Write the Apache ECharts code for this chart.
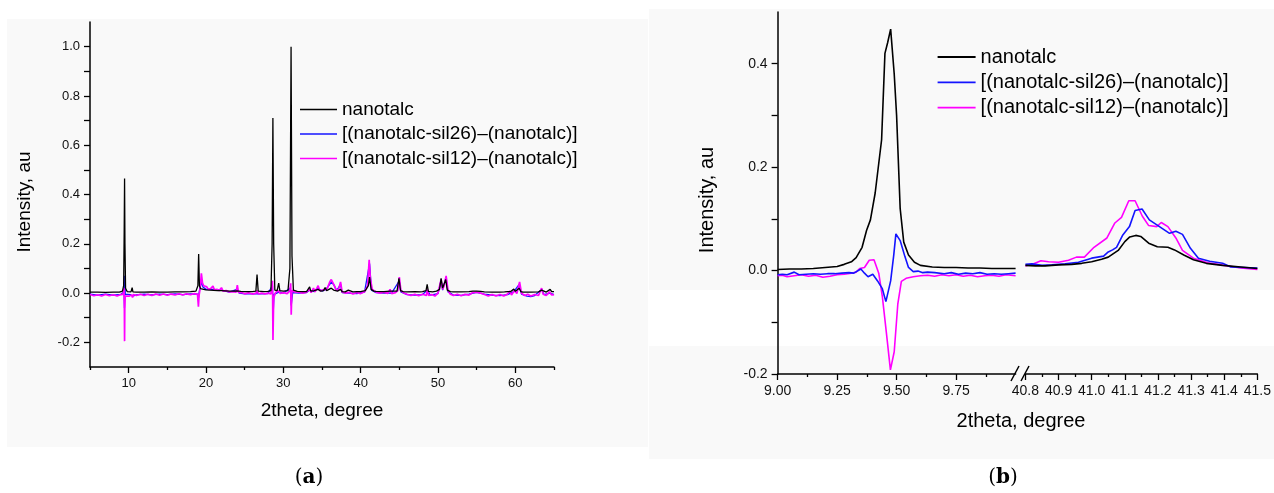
<!DOCTYPE html>
<html>
<head>
<meta charset="utf-8">
<script src="https://cdn.jsdelivr.net/npm/echarts@6/dist/echarts.min.js"></script>
<style>
html,body{margin:0;padding:0;background:#fff;}
#chart{width:1274px;height:493px;}
</style>
</head>
<body>
<div id="chart"></div>
<script>
// ---------- series names ----------
const seriesNames = ['nanotalc', '[(nanotalc-sil26)\u2013(nanotalc)]', '[(nanotalc-sil12)\u2013(nanotalc)]'];
const panelLabels = ['a', 'b'];
const xTitle = '2theta, degree';
const yTitle = 'Intensity, au';

// ---------- panel (a) data: [2theta, intensity] ----------
const aNanotalc = [[5,0.004],[6,0.004],[7,0.003],[8,0.004],[8.8,0.004],[9.2,0.008],[9.35,0.03],[9.42,0.25],[9.47,0.465],[9.52,0.2],[9.6,0.02],[9.8,0.006],[10.3,0.005],[10.45,0.022],[10.55,0.005],[11,0.004],[12,0.004],[13,0.005],[14,0.004],[15,0.004],[16,0.005],[17,0.005],[18,0.006],[18.7,0.008],[18.95,0.03],[19.05,0.158],[19.15,0.03],[19.3,0.018],[19.5,0.022],[19.7,0.015],[20,0.013],[20.5,0.012],[21,0.011],[21.5,0.01],[22,0.01],[22.5,0.009],[23,0.008],[23.5,0.008],[24,0.009],[24.5,0.007],[25,0.006],[25.5,0.006],[26,0.006],[26.45,0.008],[26.6,0.075],[26.75,0.008],[27,0.006],[27.5,0.006],[28,0.007],[28.4,0.01],[28.55,0.2],[28.65,0.71],[28.75,0.2],[28.9,0.012],[29.2,0.01],[29.4,0.04],[29.55,0.01],[30,0.008],[30.6,0.01],[30.85,0.1],[31.0,1.0],[31.12,0.15],[31.3,0.012],[31.8,0.007],[32.5,0.006],[33,0.006],[33.4,0.025],[33.55,0.008],[34,0.01],[34.5,0.015],[34.8,0.008],[35.2,0.01],[35.4,0.022],[35.6,0.01],[35.9,0.015],[36.2,0.02],[36.5,0.012],[37,0.008],[37.4,0.015],[37.6,0.006],[38,0.005],[38.4,0.012],[38.6,0.004],[39,0.005],[39.5,0.006],[40,0.006],[40.6,0.01],[41.0,0.03],[41.15,0.065],[41.35,0.015],[41.7,0.008],[42,0.007],[43,0.006],[43.8,0.008],[44,0.006],[44.7,0.008],[44.95,0.06],[45.15,0.01],[45.5,0.006],[46,0.005],[47,0.006],[47.7,0.005],[48,0.006],[48.45,0.01],[48.6,0.035],[48.75,0.007],[49,0.006],[49.3,0.005],[49.8,0.008],[50.2,0.015],[50.4,0.06],[50.6,0.02],[50.8,0.025],[51.0,0.055],[51.2,0.012],[51.6,0.006],[52,0.005],[53,0.005],[54,0.006],[54.5,0.008],[55,0.008],[55.5,0.007],[56,0.005],[57,0.004],[58,0.004],[58.6,0.005],[59.0,0.006],[59.2,0.012],[59.4,0.006],[59.8,0.016],[60.0,0.007],[60.5,0.02],[60.7,0.006],[61,0.004],[62,0.004],[63,0.005],[63.4,0.012],[63.6,0.005],[64,0.004],[64.5,0.015],[64.7,0.006],[65,0.006]];

const aSil26 = [[5,-0.004],[6,-0.008],[7,-0.004],[8,-0.008],[9,-0.005],[9.4,0.005],[9.46,-0.06],[9.5,0.07],[9.56,-0.004],[9.8,-0.008],[10.2,-0.006],[10.5,-0.012],[10.7,-0.005],[11,-0.007],[12,-0.004],[13,-0.007],[14,-0.004],[15,-0.006],[16,-0.003],[17,-0.006],[18,-0.003],[18.95,-0.004],[19.03,-0.02],[19.15,0.01],[19.4,0.045],[19.6,0.025],[20,0.015],[21,0.015],[22,0.012],[23,0.004],[24,0.015],[24.3,0.0],[25,-0.003],[26,-0.002],[27,-0.003],[28,-0.002],[28.6,0.03],[28.66,-0.1],[28.8,-0.005],[29.5,0.005],[30,0.0],[30.9,0.02],[31.02,-0.05],[31.2,0.002],[32,0.0],[33,0.002],[33.4,0.012],[34,0.006],[34.5,0.02],[35,0.008],[35.5,0.015],[36.0,0.035],[36.2,0.045],[36.5,0.035],[36.9,0.01],[37.4,0.035],[37.6,0.002],[38.5,0.0],[39.5,-0.002],[40.5,0.004],[41.15,0.12],[41.4,0.012],[42,0.002],[43,0.0],[44,0.0],[45,0.05],[45.2,0.005],[46,-0.006],[47,-0.008],[48,-0.006],[48.6,0.012],[49,-0.008],[50,-0.002],[50.4,0.05],[50.6,0.012],[51,0.06],[51.3,0.005],[52,-0.008],[53,-0.009],[54,-0.004],[55,0.003],[56,-0.004],[57,-0.008],[58,-0.01],[59,-0.006],[59.8,0.006],[60.5,0.035],[60.8,-0.004],[61.5,-0.012],[62,-0.014],[62.5,-0.01],[63.4,0.015],[63.7,-0.006],[64.5,0.0],[65,-0.006]];

const aSil12 = [[5,-0.006],[5.5,-0.011],[6,-0.007],[6.5,-0.012],[7,-0.006],[7.5,-0.011],[8,-0.007],[8.5,-0.012],[9,-0.006],[9.3,-0.004],[9.4,0.02],[9.44,-0.05],[9.47,-0.195],[9.5,-0.06],[9.55,-0.012],[9.8,-0.006],[10.1,-0.012],[10.4,-0.008],[10.5,-0.018],[10.6,-0.006],[11,-0.01],[11.5,-0.005],[12,-0.01],[12.5,-0.005],[13,-0.01],[13.5,-0.004],[14,-0.009],[14.5,-0.004],[15,-0.009],[15.5,-0.004],[16,-0.008],[16.5,-0.003],[17,-0.008],[17.5,-0.003],[18,-0.007],[18.5,-0.002],[18.9,-0.005],[19.02,-0.055],[19.1,-0.01],[19.25,0.02],[19.4,0.08],[19.55,0.04],[19.7,0.03],[19.9,0.022],[20.1,0.025],[20.3,0.015],[20.6,0.018],[20.9,0.028],[21.1,0.012],[21.4,0.015],[21.7,0.01],[22.0,0.022],[22.2,0.008],[22.6,0.01],[23,0.005],[23.5,0.006],[23.9,0.004],[24.05,0.032],[24.2,0.003],[24.6,0.002],[25,-0.003],[25.5,0.001],[26,-0.004],[26.5,0.0],[26.6,0.01],[26.8,-0.004],[27.2,0.0],[27.6,-0.004],[28,0.0],[28.4,-0.003],[28.6,0.05],[28.66,-0.19],[28.75,-0.02],[29,0.002],[29.4,0.01],[29.6,-0.002],[30,0.002],[30.5,-0.002],[30.85,0.01],[30.95,0.04],[31.02,-0.088],[31.1,0.01],[31.4,0.005],[31.5,0.0],[32,0.004],[32.5,0.0],[33,0.004],[33.4,0.015],[33.6,0.002],[33.9,0.02],[34.1,0.005],[34.5,0.03],[34.7,0.01],[35,0.012],[35.4,0.015],[35.7,0.02],[36.0,0.045],[36.2,0.055],[36.4,0.05],[36.6,0.03],[36.8,0.015],[37.1,0.01],[37.4,0.045],[37.6,0.005],[38,0.0],[38.5,0.003],[39,-0.004],[39.5,0.002],[40,-0.002],[40.5,0.005],[40.9,0.03],[41.1,0.135],[41.25,0.06],[41.5,0.015],[42,0.004],[42.5,0.0],[43,0.004],[43.5,-0.002],[43.8,0.015],[44,-0.002],[44.5,0.002],[44.8,0.01],[45.0,0.065],[45.2,0.01],[45.6,0.0],[46,-0.005],[46.5,-0.01],[47,-0.005],[47.5,-0.011],[48,-0.005],[48.5,-0.01],[48.6,0.015],[48.8,-0.01],[49.2,-0.006],[49.6,-0.012],[50,0.0],[50.4,0.055],[50.6,0.015],[50.8,0.03],[51.05,0.07],[51.3,0.01],[51.6,-0.005],[52,-0.01],[52.5,-0.005],[53,-0.011],[53.5,-0.005],[54,-0.008],[54.5,0.002],[55,0.004],[55.5,0.0],[56,-0.006],[56.5,-0.012],[57,-0.006],[57.5,-0.012],[58,-0.006],[58.5,-0.012],[59,-0.004],[59.3,0.008],[59.5,-0.008],[59.9,0.01],[60.2,-0.002],[60.55,0.045],[60.8,0.0],[61.2,-0.01],[61.6,-0.005],[62,-0.012],[62.5,-0.006],[63,-0.01],[63.4,0.02],[63.6,-0.005],[64,-0.01],[64.4,0.005],[64.7,-0.008],[65,-0.006]];

// ---------- panel (b) data, left segment (9.0 - 10.0) ----------
const bNanotalcL = [[9.00,0.002],[9.05,0.003],[9.10,0.003],[9.15,0.004],[9.20,0.006],[9.25,0.008],[9.28,0.012],[9.31,0.017],[9.33,0.025],[9.355,0.045],[9.374,0.078],[9.39,0.098],[9.41,0.15],[9.437,0.253],[9.451,0.42],[9.462,0.44],[9.475,0.467],[9.49,0.38],[9.50,0.3],[9.515,0.12],[9.53,0.055],[9.55,0.03],[9.575,0.016],[9.60,0.01],[9.65,0.007],[9.70,0.006],[9.75,0.006],[9.80,0.005],[9.85,0.005],[9.90,0.004],[9.95,0.004],[10.0,0.004]];
const bSil26L = [[9.00,-0.008],[9.02,-0.007],[9.04,-0.008],[9.07,-0.003],[9.09,-0.008],[9.12,-0.007],[9.15,-0.006],[9.18,-0.007],[9.21,-0.006],[9.24,-0.006],[9.27,-0.005],[9.30,-0.004],[9.32,-0.005],[9.35,0.003],[9.365,-0.005],[9.38,-0.012],[9.40,-0.007],[9.42,-0.02],[9.44,-0.035],[9.455,-0.06],[9.475,-0.02],[9.488,0.03],[9.497,0.071],[9.515,0.058],[9.535,0.027],[9.55,0.006],[9.57,-0.002],[9.59,-0.001],[9.61,-0.004],[9.63,-0.003],[9.66,-0.004],[9.70,-0.006],[9.73,-0.004],[9.76,-0.007],[9.79,-0.005],[9.82,-0.006],[9.85,-0.004],[9.88,-0.007],[9.91,-0.006],[9.94,-0.007],[9.97,-0.006],[10.0,-0.005]];
const bSil12L = [[9.00,-0.01],[9.02,-0.009],[9.04,-0.012],[9.07,-0.01],[9.10,-0.008],[9.13,-0.011],[9.16,-0.009],[9.19,-0.013],[9.22,-0.011],[9.25,-0.008],[9.28,-0.007],[9.31,-0.005],[9.33,-0.003],[9.345,0.004],[9.365,0.006],[9.385,0.02],[9.405,0.021],[9.425,-0.005],[9.44,-0.05],[9.457,-0.12],[9.474,-0.192],[9.49,-0.157],[9.505,-0.065],[9.52,-0.021],[9.54,-0.015],[9.57,-0.012],[9.60,-0.01],[9.63,-0.009],[9.66,-0.011],[9.69,-0.008],[9.72,-0.01],[9.75,-0.008],[9.78,-0.011],[9.81,-0.009],[9.84,-0.012],[9.87,-0.01],[9.90,-0.009],[9.93,-0.011],[9.96,-0.008],[10.0,-0.01]];

// ---------- panel (b) data, right segment (40.8 - 41.5) ----------
const bNanotalcR = [[40.80,0.010],[40.83,0.009],[40.86,0.009],[40.90,0.011],[40.94,0.012],[40.97,0.014],[41.00,0.017],[41.03,0.022],[41.05,0.026],[41.08,0.039],[41.10,0.056],[41.115,0.065],[41.133,0.068],[41.148,0.066],[41.172,0.053],[41.198,0.046],[41.23,0.045],[41.25,0.04],[41.278,0.03],[41.307,0.021],[41.346,0.014],[41.395,0.01],[41.45,0.007],[41.5,0.004]];
const bSil26R = [[40.80,0.012],[40.82,0.013],[40.85,0.01],[40.88,0.011],[40.92,0.013],[40.96,0.016],[41.0,0.024],[41.036,0.028],[41.05,0.036],[41.063,0.04],[41.075,0.045],[41.094,0.069],[41.114,0.085],[41.131,0.116],[41.152,0.119],[41.174,0.098],[41.20,0.087],[41.235,0.072],[41.254,0.076],[41.274,0.07],[41.298,0.043],[41.322,0.024],[41.356,0.018],[41.395,0.014],[41.42,0.007],[41.46,0.006],[41.5,0.005]];
const bSil12R = [[40.80,0.009],[40.825,0.013],[40.847,0.019],[40.87,0.017],[40.90,0.016],[40.93,0.02],[40.954,0.026],[40.978,0.026],[41.007,0.045],[41.046,0.063],[41.07,0.092],[41.09,0.103],[41.112,0.135],[41.131,0.135],[41.153,0.105],[41.172,0.087],[41.196,0.085],[41.21,0.093],[41.23,0.085],[41.254,0.063],[41.274,0.039],[41.307,0.024],[41.35,0.015],[41.4,0.01],[41.45,0.005],[41.5,0.002]];

// ---------- ticks ----------
const aXLabels = [10, 20, 30, 40, 50, 60];
const aXMinor = [5, 15, 25, 35, 45, 55, 65];
const aYLabels = [-0.2, 0, 0.2, 0.4, 0.6, 0.8, 1.0];
const aYTicks = [-0.2, -0.1, 0, 0.1, 0.2, 0.3, 0.4, 0.5, 0.6, 0.7, 0.8, 0.9, 1.0];
const bXLabelsL = [9.0, 9.25, 9.5, 9.75];
const bXMinorL = [9.125, 9.375, 9.625, 9.875];
const bXLabelsR = [40.8, 40.9, 41.0, 41.1, 41.2, 41.3, 41.4, 41.5];
const bXMinorR = [40.85, 40.95, 41.05, 41.15, 41.25, 41.35, 41.45];
const bYLabels = [-0.2, 0, 0.2, 0.4];
const bYTicks = [-0.2, -0.1, 0, 0.1, 0.2, 0.3, 0.4];

const colors = ['#000000', '#1414ff', '#ff00ff'];
const FONT = 'Liberation Sans';
const AXC = '#000';

function line(name, data, color, xi, yi, w, z) {
  return { type: 'line', name: name, data: data, xAxisIndex: xi, yAxisIndex: yi,
    symbol: 'none', showSymbol: false, z: z,
    lineStyle: { color: color, width: w }, itemStyle: { color: color },
    emphasis: { disabled: true }, silent: true };
}
function xAx(grid, min, max, labels, ticks, len, fmt, fs, showLine) {
  return { type: 'value', gridIndex: grid, min: min, max: max, position: 'bottom', offset: 0,
    axisLine: { show: showLine, onZero: false, lineStyle: { color: AXC, width: 1.5 } },
    axisTick: { show: true, inside: false, length: len, customValues: ticks, lineStyle: { color: AXC, width: 1.3 } },
    axisLabel: { show: labels !== null, customValues: labels || [], margin: 10, color: '#111', fontSize: fs, fontFamily: FONT, formatter: fmt },
    splitLine: { show: false } };
}
function yAx(grid, min, max, labels, ticks, fs, show) {
  return { type: 'value', gridIndex: grid, min: min, max: max, show: show,
    axisLine: { show: true, onZero: false, lineStyle: { color: AXC, width: 1.5 } },
    axisTick: { show: true, inside: false, length: 6, customValues: ticks, lineStyle: { color: AXC, width: 1.3 } },
    axisLabel: { customValues: labels, margin: 10, color: '#111', fontSize: fs, fontFamily: FONT, formatter: v => v.toFixed(1) },
    splitLine: { show: false } };
}

const chart = echarts.init(document.getElementById('chart'), null, { renderer: 'canvas' });
const option = {
  animation: false,
  backgroundColor: '#ffffff',
  textStyle: { fontFamily: FONT },
  grid: [
    { left: 90, top: 22, width: 464, height: 345 },
    { left: 777.6, top: 12, width: 238, height: 362 },
    { left: 1025.4, top: 12, width: 240.8, height: 362 }
  ],
  xAxis: [
    xAx(0, 5, 65, aXLabels, aXLabels, 6, v => String(Math.round(v)), 13, true),
    xAx(0, 5, 65, null, aXMinor, 3, v => '', 13, false),
    xAx(1, 9, 10, bXLabelsL, bXLabelsL, 6, v => v.toFixed(2), 14, true),
    xAx(1, 9, 10, null, bXMinorL, 3, v => '', 14, false),
    xAx(2, 40.8, 41.5, bXLabelsR, bXLabelsR, 6, v => v.toFixed(1), 14, true),
    xAx(2, 40.8, 41.5, null, bXMinorR, 3, v => '', 14, false)
  ],
  yAxis: [
    yAx(0, -0.3, 1.1, aYLabels, aYTicks, 13, true),
    yAx(1, -0.2, 0.5, bYLabels, bYTicks, 14, true),
    yAx(2, -0.2, 0.5, bYLabels, bYTicks, 14, false)
  ],
  legend: [
    { data: seriesNames, orient: 'vertical', left: 300, top: 99.5, padding: 0, itemGap: 4.5,
      icon: 'rect', itemWidth: 37, itemHeight: 1.6, selectedMode: false,
      textStyle: { fontSize: 19, lineHeight: 20, color: '#000', fontFamily: FONT } },
    { data: seriesNames, orient: 'vertical', left: 937.6, top: 46.5, padding: 0, itemGap: 4.3,
      icon: 'rect', itemWidth: 38, itemHeight: 1.8, selectedMode: false,
      textStyle: { fontSize: 20, lineHeight: 21, color: '#000', fontFamily: FONT } }
  ],
  series: [
    line(seriesNames[1], aSil26, colors[1], 0, 0, 1.3, 2),
    line(seriesNames[2], aSil12, colors[2], 0, 0, 1.7, 3),
    line(seriesNames[0], aNanotalc, colors[0], 0, 0, 1.3, 4),
    line(seriesNames[1], bSil26L, colors[1], 2, 1, 1.6, 3),
    line(seriesNames[2], bSil12L, colors[2], 2, 1, 1.6, 2),
    line(seriesNames[0], bNanotalcL, colors[0], 2, 1, 1.6, 4),
    line(seriesNames[1], bSil26R, colors[1], 4, 2, 1.6, 3),
    line(seriesNames[2], bSil12R, colors[2], 4, 2, 1.6, 2),
    line(seriesNames[0], bNanotalcR, colors[0], 4, 2, 1.6, 4)
  ],
  graphic: [
    { type: 'rect', z: -10, silent: true, shape: { x: 7, y: 19, width: 641, height: 428 }, style: { fill: '#f9f9f9' } },
    { type: 'rect', z: -10, silent: true, shape: { x: 649, y: 9, width: 625, height: 450 }, style: { fill: '#f9f9f9' } },
    { type: 'rect', z: -9, silent: true, shape: { x: 649, y: 290, width: 625, height: 56 }, style: { fill: '#ffffff' } },
    { type: 'line', z: 10, silent: true, shape: { x1: 1011, y1: 381, x2: 1019, y2: 366 }, style: { stroke: '#000', lineWidth: 1.5 } },
    { type: 'line', z: 10, silent: true, shape: { x1: 1021, y1: 381, x2: 1029, y2: 366 }, style: { stroke: '#000', lineWidth: 1.5 } },
    { type: 'text', z: 10, silent: true, x: 322, y: 411, style: { text: xTitle, font: '19px "Liberation Sans"', fill: '#000', align: 'center', verticalAlign: 'middle' } },
    { type: 'text', z: 10, silent: true, x: 24.5, y: 202, rotation: Math.PI / 2, style: { text: yTitle, font: '19px "Liberation Sans"', fill: '#000', align: 'center', verticalAlign: 'middle' } },
    { type: 'text', z: 10, silent: true, x: 1021, y: 421, style: { text: xTitle, font: '20px "Liberation Sans"', fill: '#000', align: 'center', verticalAlign: 'middle' } },
    { type: 'text', z: 10, silent: true, x: 707, y: 200, rotation: Math.PI / 2, style: { text: yTitle, font: '20px "Liberation Sans"', fill: '#000', align: 'center', verticalAlign: 'middle' } },
    { type: 'text', z: 10, silent: true, x: 309, y: 478, style: { text: '({b|' + panelLabels[0] + '})', font: '20px "DejaVu Serif"', fill: '#000', align: 'center', verticalAlign: 'middle', rich: { b: { font: 'bold 20px "DejaVu Serif"', fill: '#000' } } } },
    { type: 'text', z: 10, silent: true, x: 1003, y: 478, style: { text: '({b|' + panelLabels[1] + '})', font: '20px "DejaVu Serif"', fill: '#000', align: 'center', verticalAlign: 'middle', rich: { b: { font: 'bold 20px "DejaVu Serif"', fill: '#000' } } } }
  ]
};
chart.setOption(option);
</script>
</body>
</html>
